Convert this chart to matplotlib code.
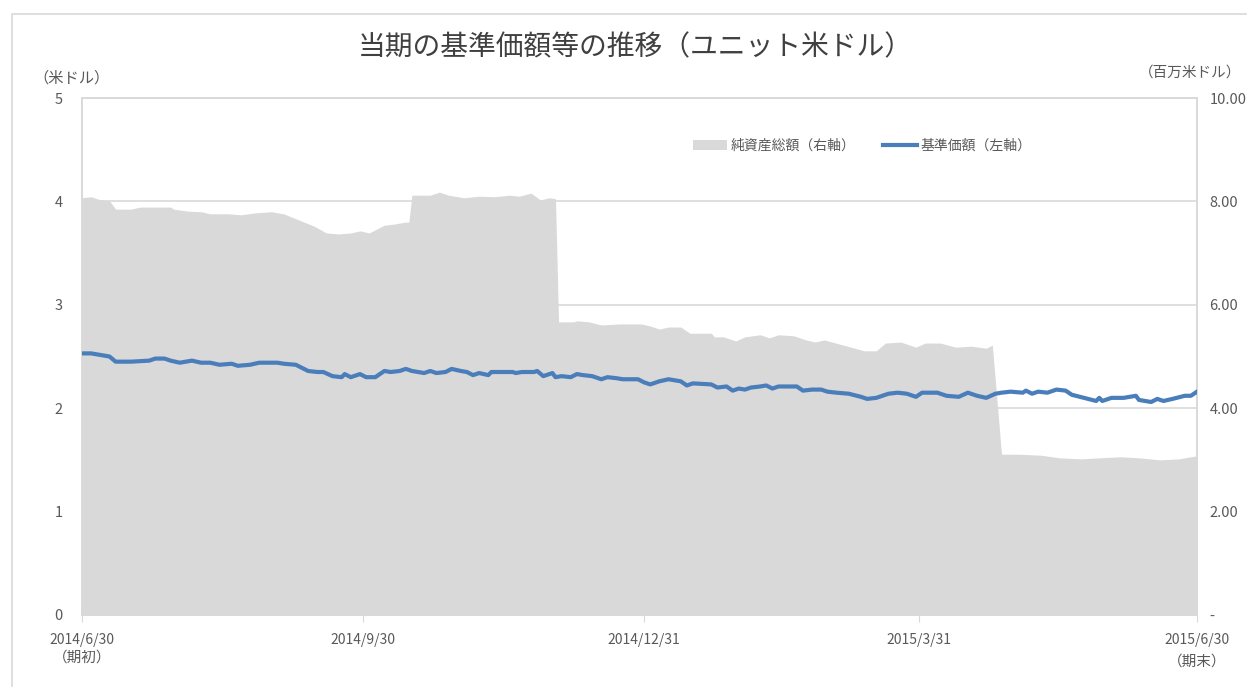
import matplotlib
matplotlib.use("Agg")
import matplotlib.pyplot as plt
import matplotlib.transforms as mtransforms
from matplotlib.patches import Rectangle, Patch
from matplotlib.lines import Line2D
import pandas as pd

plt.rcParams['font.family'] = ['Noto Sans CJK JP', 'DejaVu Sans']

START = "2014-06-30"

# 基準価額（左軸, 米ドル）: 期初からの日数と値
nav_days = [0, 3, 9, 11, 16, 22, 24, 27, 29, 32, 36, 39, 42, 45, 49, 51, 55, 58, 61, 64,
            66, 70, 74, 77, 79, 82, 85, 86, 88, 91, 93, 96, 99, 101, 104, 106, 108, 112, 114, 116,
            119, 121, 124, 126, 128, 130, 133, 134, 138, 141, 142, 144, 148, 149, 151, 154, 155, 157, 160, 162,
            164, 167, 170, 172, 175, 177, 182, 184, 186, 189, 192, 196, 198, 200, 206, 208, 211, 213, 215, 217,
            219, 222, 224, 226, 228, 232, 234, 236, 239, 242, 244, 247, 251, 255, 257, 260, 264, 267, 270, 273,
            275, 280, 283, 287, 290, 293, 296, 299, 301, 304, 308, 309, 311, 313, 316, 319, 322, 324, 328, 332,
            333, 334, 337, 341, 345, 346, 350, 352, 354, 357, 361, 363, 365]
nav_values = [2.53, 2.53, 2.50, 2.45, 2.45, 2.46, 2.48, 2.48, 2.46, 2.44, 2.46, 2.44, 2.44, 2.42, 2.43, 2.41, 2.42, 2.44, 2.44, 2.44,
              2.43, 2.42, 2.36, 2.35, 2.35, 2.31, 2.30, 2.33, 2.30, 2.33, 2.30, 2.30, 2.36, 2.35, 2.36, 2.38, 2.36, 2.34, 2.36, 2.34,
              2.35, 2.38, 2.36, 2.35, 2.32, 2.34, 2.32, 2.35, 2.35, 2.35, 2.34, 2.35, 2.35, 2.36, 2.31, 2.34, 2.30, 2.31, 2.30, 2.33,
              2.32, 2.31, 2.28, 2.30, 2.29, 2.28, 2.28, 2.25, 2.23, 2.26, 2.28, 2.26, 2.22, 2.24, 2.23, 2.20, 2.21, 2.17, 2.19, 2.18,
              2.20, 2.21, 2.22, 2.19, 2.21, 2.21, 2.21, 2.17, 2.18, 2.18, 2.16, 2.15, 2.14, 2.11, 2.09, 2.10, 2.14, 2.15, 2.14, 2.11,
              2.15, 2.15, 2.12, 2.11, 2.15, 2.12, 2.10, 2.14, 2.15, 2.16, 2.15, 2.17, 2.14, 2.16, 2.15, 2.18, 2.17, 2.13, 2.10, 2.07,
              2.10, 2.07, 2.10, 2.10, 2.12, 2.08, 2.06, 2.09, 2.07, 2.09, 2.12, 2.12, 2.16]

# 純資産総額（右軸, 百万米ドル）
asset_days = [0, 3, 6, 9, 11, 16, 19, 29, 30, 35, 39, 42, 48, 52, 57, 62, 66, 71, 76, 80,
              84, 88, 91, 94, 99, 102, 106, 107, 108, 114, 117, 120, 125, 130, 135, 140, 143, 147, 150, 153,
              155, 156, 161, 162, 166, 170, 176, 183, 186, 189, 192, 196, 199, 206, 207, 210, 214, 217, 222, 225,
              228, 233, 237, 240, 243, 248, 253, 256, 260, 263, 268, 273, 276, 281, 286, 291, 296, 298, 301, 307,
              314, 320, 327, 333, 340, 346, 353, 359, 363, 365]
asset_values = [8.07, 8.09, 8.03, 8.01, 7.85, 7.85, 7.89, 7.89, 7.85, 7.81, 7.80, 7.76, 7.76, 7.74, 7.78, 7.80, 7.76, 7.64, 7.52, 7.39,
                7.37, 7.39, 7.43, 7.39, 7.54, 7.56, 7.60, 7.60, 8.12, 8.12, 8.18, 8.12, 8.07, 8.10, 8.09, 8.12, 8.10, 8.16, 8.03, 8.07,
                8.05, 5.67, 5.67, 5.69, 5.67, 5.61, 5.63, 5.63, 5.59, 5.53, 5.57, 5.57, 5.45, 5.45, 5.38, 5.38, 5.30, 5.38, 5.42, 5.36,
                5.42, 5.40, 5.32, 5.28, 5.32, 5.24, 5.16, 5.11, 5.11, 5.26, 5.28, 5.18, 5.26, 5.26, 5.18, 5.20, 5.16, 5.22, 3.11, 3.11,
                3.09, 3.04, 3.02, 3.04, 3.06, 3.04, 3.00, 3.02, 3.06, 3.08]

tick_dates = ["2014-06-30", "2014-09-30", "2014-12-31", "2015-03-31", "2015-06-30"]
tick_labels = ["2014/6/30", "2014/9/30", "2014/12/31", "2015/3/31", "2015/6/30"]
left_ticks = [0, 1, 2, 3, 4, 5]
right_ticks = [0, 2, 4, 6, 8, 10]
right_labels = ["-", "2.00", "4.00", "6.00", "8.00", "10.00"]

GRAY = "#d9d9d9"
BLUE = "#4a7ebb"
TXT = "#595959"

start = pd.Timestamp(START)
nav_x = start + pd.to_timedelta(nav_days, unit="D")
asset_x = start + pd.to_timedelta(asset_days, unit="D")

fig = plt.figure(figsize=(12.47, 6.87), dpi=100)
# outer chart frame (runs off the right / bottom edge as in the original)
fig.patches.append(Rectangle((12 / 1247, -0.1), 1.2, 1 - 14 / 687 + 0.1, transform=fig.transFigure,
                             fill=False, edgecolor=GRAY, linewidth=1.2))

ax = fig.add_axes([82 / 1247, 1 - 615 / 687, 1115 / 1247, 517 / 687])
ax2 = ax.twinx()

# area on right axis, behind the line
ax2.fill_between(asset_x, asset_values, 0, color=GRAY, linewidth=0, zorder=1)
ax2.set_ylim(0, 10)
ax2.set_yticks(right_ticks)
ax2.set_yticklabels(right_labels)

ax2.set_zorder(0)
ax.set_zorder(1)
ax.patch.set_visible(False)
ax.plot(nav_x, nav_values, color=BLUE, linewidth=3.0, solid_joinstyle="round", zorder=3)
ax.set_ylim(0, 5)
ax.set_yticks(left_ticks)

xmin, xmax = pd.Timestamp(tick_dates[0]), pd.Timestamp(tick_dates[-1])
ax.set_xlim(xmin, xmax)
ax.set_xticks([pd.Timestamp(d) for d in tick_dates])
ax.set_xticklabels(tick_labels)

# gridlines on the back axis so they sit behind the area
for v in left_ticks[1:]:
    ax2.axhline(v * 2, color=GRAY, linewidth=1.2, zorder=0)

for a in (ax, ax2):
    for s in a.spines.values():
        s.set_color(GRAY)
        s.set_linewidth(1.2)

ax.tick_params(axis="y", length=0, pad=14, labelsize=10.5, labelcolor=TXT)
ax2.tick_params(axis="y", length=0, pad=9, labelsize=10.5, labelcolor=TXT)
ax.tick_params(axis="x", length=5, color=GRAY, pad=8, labelsize=10, labelcolor=TXT)
for lab in ax2.get_yticklabels():
    lab.set_horizontalalignment("left")

trans = mtransforms.blended_transform_factory(ax.transData, fig.transFigure)
ax.text(xmin, 1 - 658 / 687, "（期初）", transform=trans, ha="center", va="center", fontsize=10.5, color=TXT)
ax.text(xmax, 1 - 662 / 687, "（期末）", transform=trans, ha="center", va="center", fontsize=10.5, color=TXT)

fig.text(72 / 1247, 1 - 78 / 687, "（米ドル）", ha="center", va="center", fontsize=11, color=TXT)
fig.text(1190 / 1247, 1 - 73 / 687, "（百万米ドル）", ha="center", va="center", fontsize=10.5, color=TXT)

fig.text(635 / 1247, 1 - 47 / 687, "当期の基準価額等の推移（ユニット米ドル）", ha="center", va="center",
         fontsize=20, color="#404040")

handles = [Patch(facecolor=GRAY, edgecolor="none"),
           Line2D([0], [0], color=BLUE, linewidth=3.0)]
ax.legend(handles, ["純資産総額（右軸）", "基準価額（左軸）"], loc="center",
          bbox_to_anchor=(0.70, 0.907), ncol=2, frameon=False, fontsize=10,
          labelcolor=TXT, handlelength=2.4, handletextpad=0.3, columnspacing=2.0)

fig.savefig("out.png", dpi=100)
